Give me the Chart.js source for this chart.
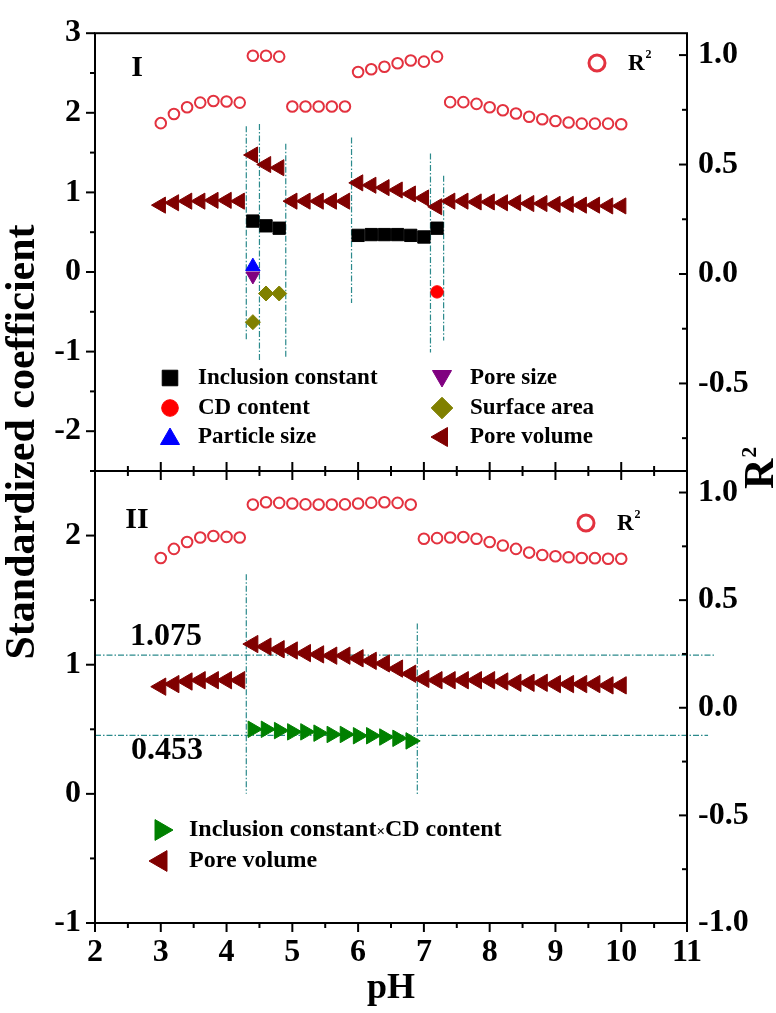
<!DOCTYPE html>
<html lang="en">
<head>
<meta charset="UTF-8">
<title>Standardized coefficients and R2 versus pH</title>
<script src="https://cdn.jsdelivr.net/npm/chart.js"></script>
<style>
  body { margin: 0; background: #fff; }
  #stage { position: relative; width: 776px; height: 1013px; }
  #stage canvas { position: absolute; left: 0; top: 0; }
</style>
</head>
<body>
<div id="stage">
  <canvas id="panelI" width="776" height="1013"></canvas>
  <canvas id="panelII" width="776" height="1013"></canvas>
</div>
<script>
// ---- values ----
const phAll = [3.0, 3.2, 3.4, 3.6, 3.8, 4.0, 4.2, 4.4, 4.6, 4.8, 5.0, 5.2, 5.4, 5.6, 5.8, 6.0, 6.2, 6.4,
               6.6, 6.8, 7.0, 7.2, 7.4, 7.6, 7.8, 8.0, 8.2, 8.4, 8.6, 8.8, 9.0, 9.2, 9.4, 9.6, 9.8, 10.0];

// panel I
const r2I = [0.689, 0.731, 0.762, 0.783, 0.790, 0.788, 0.783, 0.997, 0.997, 0.993, 0.765, 0.765, 0.765, 0.765,
             0.765, 0.923, 0.935, 0.947, 0.963, 0.975, 0.970, 0.993, 0.785, 0.785, 0.777, 0.762, 0.748, 0.733,
             0.718, 0.707, 0.699, 0.692, 0.687, 0.687, 0.687, 0.684];
const poreVolumeI = [0.84, 0.87, 0.89, 0.89, 0.90, 0.90, 0.89, 1.47, 1.35, 1.31, 0.89, 0.89, 0.89, 0.89, 0.89,
                     1.12, 1.09, 1.06, 1.03, 0.98, 0.93, 0.82, 0.89, 0.89, 0.88, 0.88, 0.87, 0.87, 0.86, 0.86,
                     0.85, 0.85, 0.84, 0.84, 0.83, 0.83];
const inclusionPH_I = [4.4, 4.6, 4.8, 6.0, 6.2, 6.4, 6.6, 6.8, 7.0, 7.2];
const inclusionI = [0.64, 0.58, 0.55, 0.46, 0.47, 0.47, 0.47, 0.46, 0.44, 0.55];
const cdContentPH_I = [7.2];
const cdContentI = [-0.25];
const particlePH_I = [4.4];
const particleI = [0.07];
const poreSizePH_I = [4.4];
const poreSizeI = [-0.05];
const surfacePH_I = [4.4, 4.6, 4.8];
const surfaceI = [-0.63, -0.27, -0.27];
const splitPH_I = [4.3, 4.5, 4.9, 5.9, 7.1, 7.3];
const splitTop_I = [1.83, 1.86, 1.61, 1.69, 1.49, 1.21];
const splitBottom_I = [-0.86, -1.12, -1.07, -0.39, -1.01, -0.86];

// panel II
const r2II = [0.696, 0.738, 0.770, 0.791, 0.798, 0.794, 0.791, 0.944, 0.955, 0.952, 0.949, 0.945, 0.944, 0.944,
              0.945, 0.949, 0.953, 0.955, 0.952, 0.944, 0.785, 0.788, 0.791, 0.793, 0.785, 0.770, 0.754, 0.738,
              0.721, 0.710, 0.704, 0.699, 0.696, 0.695, 0.692, 0.692];
const poreVolumeII = [0.83, 0.85, 0.87, 0.88, 0.88, 0.88, 0.88, 1.16, 1.14, 1.12, 1.11, 1.09, 1.08, 1.07, 1.07,
                      1.05, 1.03, 1.01, 0.97, 0.93, 0.89, 0.88, 0.88, 0.88, 0.88, 0.88, 0.87, 0.86, 0.86, 0.86,
                      0.85, 0.85, 0.85, 0.85, 0.84, 0.84];
const productPH_II = [4.4, 4.6, 4.8, 5.0, 5.2, 5.4, 5.6, 5.8, 6.0, 6.2, 6.4, 6.6, 6.8];
const productII = [0.50, 0.50, 0.49, 0.48, 0.48, 0.47, 0.46, 0.46, 0.45, 0.45, 0.44, 0.43, 0.41];
const splitPH_II = [4.3, 6.9];
const splitTop_II = [1.70, 1.32];
const splitBottom_II = [0, -0.01];
const refLevels = [1.075, 0.453];
const refEnds = [11.42, 11.32];

// tick labels
const xTicks = [2, 3, 4, 5, 6, 7, 8, 9, 10, 11];
const leftTicksI = [3, 2, 1, 0, -1, -2];
const rightTicksI = [1.0, 0.5, 0.0, -0.5];
const leftTicksII = [2, 1, 0, -1];
const rightTicksII = [1.0, 0.5, 0.0, -0.5, -1.0];

// ---- look ----
const SERIF = '"Liberation Serif", "Times New Roman", serif';
const TEAL = '#2b8a8c';
const STYLE = {
  r2:        { pointStyle: 'circle',   color: '#e3323f', radius: 5.3, rotation: 0,   hollow: true },
  poreVol:   { pointStyle: 'triangle', color: '#800000', radius: 9.3, rotation: -90 },
  inclusion: { pointStyle: 'rect',     color: '#000000', radius: 8.7, rotation: 0 },
  cd:        { pointStyle: 'circle',   color: '#ff0000', radius: 6.2, rotation: 0 },
  particle:  { pointStyle: 'triangle', color: '#0000ff', radius: 8.3, rotation: 0 },
  poreSize:  { pointStyle: 'triangle', color: '#800080', radius: 8,   rotation: 180 },
  surface:   { pointStyle: 'rectRot',  color: '#808000', radius: 7.5, rotation: 0 },
  product:   { pointStyle: 'triangle', color: '#008000', radius: 9.5, rotation: 90 }
};

const xy = (xs, ys) => xs.map((x, i) => ({ x: x, y: ys[i] }));

function markers(xs, ys, axis, st, radius) {
  const r = radius || st.radius;
  return {
    data: xy(xs, ys), yAxisID: axis, showLine: false,
    pointStyle: st.pointStyle, pointRadius: r, pointHoverRadius: r, pointRotation: st.rotation,
    pointBackgroundColor: st.hollow ? 'rgba(255,255,255,0)' : st.color,
    pointBorderColor: st.color, pointBorderWidth: st.hollow ? 2 : 1
  };
}
function guide(xs, ys) {
  return {
    data: xy(xs, ys), yAxisID: 'y', showLine: true, pointRadius: 0, pointHoverRadius: 0,
    borderColor: TEAL, borderWidth: 1.2, borderDash: [6, 2, 1.5, 2], clip: false
  };
}
function yAxis(pos, min, max, labels, fmt, width, pad) {
  return {
    type: 'linear', position: pos, min: min, max: max,
    afterBuildTicks: s => { s.ticks = labels.map(v => ({ value: v })); },
    afterFit: s => { s.width = width; },
    grid: { display: false, drawTicks: false },
    border: { display: false },
    ticks: {
      autoSkip: false, padding: pad, color: '#000',
      font: { family: SERIF, size: 32, weight: 'bold' },
      callback: v => fmt(v)
    }
  };
}

// frame and tick marks (major / minor, in or out as in the figure)
const frameTicks = {
  id: 'frameTicks',
  afterDatasetsDraw(chart, args, opt) {
    const { ctx, chartArea: a } = chart;
    const sx = chart.scales.x, sl = chart.scales.y, sr = chart.scales.yR;
    const seg = (x1, y1, x2, y2) => { ctx.beginPath(); ctx.moveTo(x1, y1); ctx.lineTo(x2, y2); ctx.stroke(); };
    ctx.save();
    ctx.strokeStyle = '#000';
    ctx.lineWidth = 2;
    ctx.strokeRect(a.left, a.top, a.right - a.left, a.bottom - a.top);
    for (let k = Math.ceil(sl.min * 2); k <= Math.floor(sl.max * 2); k++) {
      const p = sl.getPixelForValue(k / 2);
      seg(a.left, p, a.left - (k % 2 === 0 ? 9 : 5), p);
    }
    for (let k = Math.ceil(sr.min * 4); k <= Math.floor(sr.max * 4); k++) {
      const p = sr.getPixelForValue(k / 4);
      seg(a.right, p, a.right - (k % 2 === 0 ? 8 : 5), p);
    }
    for (let k = Math.ceil(sx.min * 2); k <= Math.floor(sx.max * 2); k++) {
      const p = sx.getPixelForValue(k / 2), len = k % 2 === 0 ? 9 : 5;
      if (opt.bottom) seg(p, a.bottom, p, a.bottom + opt.bottom * len);
      if (opt.top) seg(p, a.top, p, a.top + opt.top * len);
    }
    ctx.restore();
  }
};

function text(ctx, str, x, y, size, align) {
  ctx.font = 'bold ' + size + 'px ' + SERIF;
  ctx.textAlign = align || 'left';
  ctx.textBaseline = 'middle';
  ctx.fillStyle = '#000';
  ctx.fillText(str, x, y);
  return ctx.measureText(str).width;
}
function rSquared(ctx, x, y, size) {
  const w = text(ctx, 'R', x, y, size);
  text(ctx, '2', x + w + 1, y - size * 0.4, Math.round(size * 0.5));
}
function mark(ctx, st, r, x, y, lw) {
  ctx.save();
  ctx.fillStyle = st.hollow ? 'rgba(255,255,255,0)' : st.color;
  ctx.strokeStyle = st.color;
  ctx.lineWidth = lw || 1;
  Chart.helpers.drawPoint(ctx, { pointStyle: st.pointStyle, radius: r, rotation: st.rotation, borderWidth: lw || 1 }, x, y);
  ctx.restore();
}

const baseOptions = (padding, xAxis, leftAxis, rightAxis, ticksOpt) => ({
  responsive: false, animation: false, events: [],
  layout: { padding: padding },
  plugins: { legend: { display: false }, tooltip: { enabled: false }, frameTicks: ticksOpt },
  scales: { x: xAxis, y: leftAxis, yR: rightAxis }
});

// ---- panel I ----
new Chart(document.getElementById('panelI'), {
  type: 'scatter',
  data: {
    datasets: [
      markers(inclusionPH_I, inclusionI, 'y', STYLE.inclusion),
      markers(cdContentPH_I, cdContentI, 'y', STYLE.cd),
      markers(particlePH_I, particleI, 'y', STYLE.particle),
      markers(poreSizePH_I, poreSizeI, 'y', STYLE.poreSize),
      markers(surfacePH_I, surfaceI, 'y', STYLE.surface),
      markers(phAll, poreVolumeI, 'y', STYLE.poreVol),
      markers(phAll, r2I, 'yR', STYLE.r2),
      ...splitPH_I.map((p, i) => guide([p, p], [splitTop_I[i], splitBottom_I[i]]))
    ]
  },
  options: baseOptions(
    { top: 20, bottom: 542, left: 0, right: 0 },
    { type: 'linear', min: 2, max: 11, afterFit: s => { s.height = 0; },
      grid: { display: false, drawTicks: false }, border: { display: false },
      ticks: { display: false, stepSize: 1 } },
    yAxis('left', -2.5, 3, leftTicksI, v => String(v), 95, 14),
    yAxis('right', -0.9, 1.1, rightTicksI, v => v.toFixed(1), 89, 11),
    { bottom: -1, top: 0 }
  ),
  plugins: [frameTicks, {
    id: 'notesI',
    afterDraw(chart) {
      const ctx = chart.ctx;
      text(ctx, 'I', 137, 68, 30, 'center');
      mark(ctx, STYLE.r2, 8, 597, 63, 3);
      rSquared(ctx, 628, 64, 23);
      const rows = [378, 408, 437];
      mark(ctx, STYLE.inclusion, 11, 170, rows[0]);
      mark(ctx, STYLE.cd, 8.3, 170, rows[1]);
      mark(ctx, STYLE.particle, 11, 170, rows[2] + 2);
      mark(ctx, STYLE.poreSize, 11, 442, rows[0] - 2);
      mark(ctx, STYLE.surface, 10.8, 442, rows[1]);
      mark(ctx, STYLE.poreVol, 11, 442, rows[2]);
      text(ctx, 'Inclusion constant', 198, rows[0], 23);
      text(ctx, 'CD content', 198, rows[1], 23);
      text(ctx, 'Particle size', 198, rows[2], 23);
      text(ctx, 'Pore size', 470, rows[0], 23);
      text(ctx, 'Surface area', 470, rows[1], 23);
      text(ctx, 'Pore volume', 470, rows[2], 23);
    }
  }]
});

// ---- panel II ----
new Chart(document.getElementById('panelII'), {
  type: 'scatter',
  data: {
    datasets: [
      markers(productPH_II, productII, 'y', STYLE.product),
      markers(phAll, poreVolumeII, 'y', STYLE.poreVol, 10),
      markers(phAll, r2II, 'yR', STYLE.r2),
      ...splitPH_II.map((p, i) => guide([p, p], [splitTop_II[i], splitBottom_II[i]])),
      ...refLevels.map((v, i) => guide([2, refEnds[i]], [v, v]))
    ]
  },
  options: baseOptions(
    { top: 471, bottom: 0, left: 0, right: 0 },
    { type: 'linear', position: 'bottom', min: 2, max: 11,
      afterBuildTicks: s => { s.ticks = xTicks.map(v => ({ value: v })); },
      afterFit: s => { s.height = 90; },
      grid: { display: false, drawTicks: false }, border: { display: false },
      ticks: { autoSkip: false, padding: 11, color: '#000', maxRotation: 0,
               font: { family: SERIF, size: 32, weight: 'bold' },
               callback: v => String(v) },
      title: { display: true, text: 'pH', color: '#000', padding: { top: 0, bottom: 3 },
               font: { family: SERIF, size: 36, weight: 'bold' } } },
    yAxis('left', -1, 2.5, leftTicksII, v => String(v), 95, 14),
    yAxis('right', -1, 1.1, rightTicksII, v => v.toFixed(1), 89, 11),
    { bottom: 1, top: 1 }
  ),
  plugins: [frameTicks, {
    id: 'notesII',
    afterDraw(chart) {
      const ctx = chart.ctx, y = chart.scales.y;
      text(ctx, 'II', 137, 520, 30, 'center');
      text(ctx, refLevels[0].toFixed(3), 130, y.getPixelForValue(refLevels[0]) - 18, 32);
      text(ctx, refLevels[1].toFixed(3), 131, y.getPixelForValue(refLevels[1]) + 15, 32);
      mark(ctx, STYLE.r2, 8, 586, 523, 3);
      rSquared(ctx, 617, 524, 23);
      mark(ctx, STYLE.product, 12, 161, 830);
      mark(ctx, STYLE.poreVol, 12, 161, 861);
      let x = 189;
      x += text(ctx, 'Inclusion constant', x, 830, 24);
      x += text(ctx, '\u00d7', x, 832, 15);
      text(ctx, 'CD content', x, 830, 24);
      text(ctx, 'Pore volume', 189, 861, 24);

      // axis titles spanning both panels
      ctx.save();
      ctx.translate(34, 442);
      ctx.rotate(-Math.PI / 2);
      ctx.font = 'bold 42px ' + SERIF;
      ctx.textAlign = 'center';
      ctx.textBaseline = 'alphabetic';
      ctx.fillStyle = '#000';
      ctx.fillText('Standardized coefficient', 0, 0);
      ctx.restore();

      ctx.save();
      ctx.translate(773, 489);
      ctx.rotate(-Math.PI / 2);
      ctx.font = 'bold 42px ' + SERIF;
      ctx.textAlign = 'left';
      ctx.textBaseline = 'alphabetic';
      ctx.fillStyle = '#000';
      ctx.fillText('R', 0, 0);
      const w = ctx.measureText('R').width;
      ctx.font = 'bold 22px ' + SERIF;
      ctx.fillText('2', w + 1, -17);
      ctx.restore();
    }
  }]
});
</script>
</body>
</html>
